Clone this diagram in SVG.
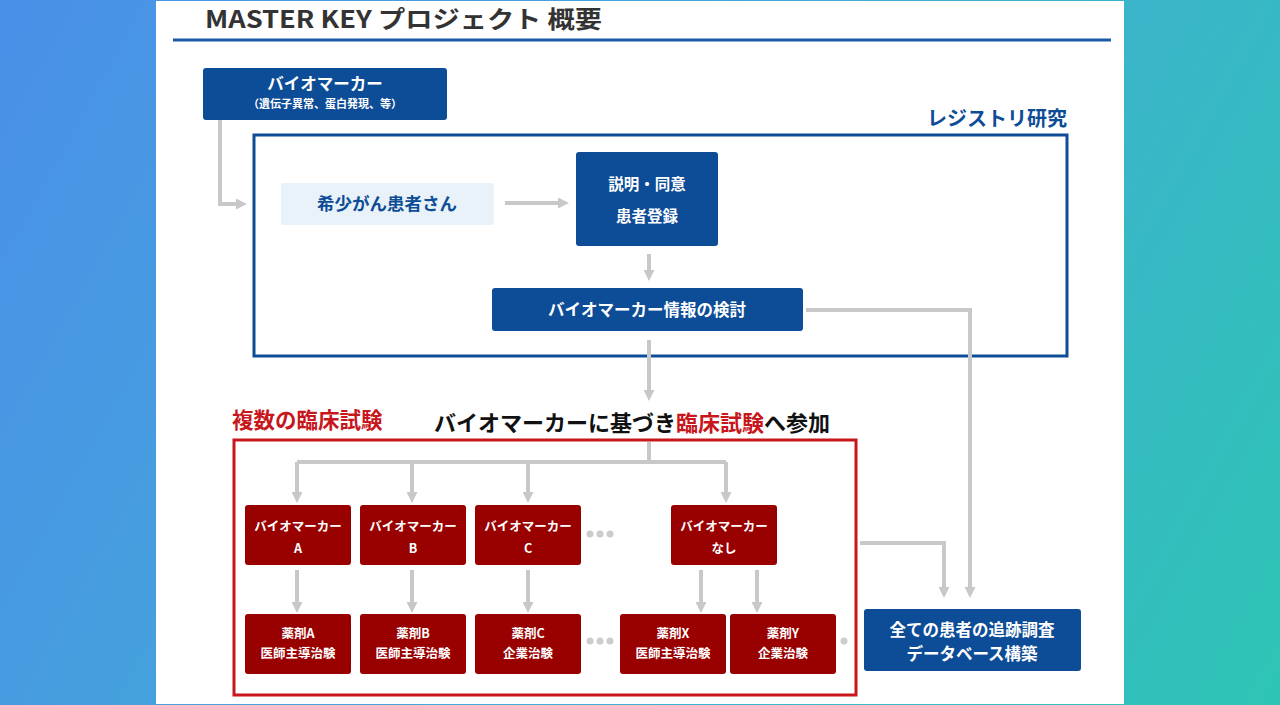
<svg xmlns="http://www.w3.org/2000/svg" width="1280" height="705" viewBox="0 0 1280 705">
<defs>
<linearGradient id="bg" x1="0" y1="0" x2="1280" y2="705" gradientUnits="userSpaceOnUse">
<stop offset="0" stop-color="#4a8fe9"/>
<stop offset="0.5" stop-color="#42abd6"/>
<stop offset="1" stop-color="#2ec5b5"/>
</linearGradient>
<marker id="ah" viewBox="0 0 10 10" refX="0" refY="5" markerWidth="11" markerHeight="11" markerUnits="userSpaceOnUse" orient="auto">
<path d="M0,0 L10,5 L0,10 z" fill="#c8c8c8"/>
</marker>
<style>
text{font-family:"Noto Sans CJK JP","Noto Sans",sans-serif;font-weight:700;}
.blue{fill:#0d4c97;}
.red{fill:#990000;}
.wt{fill:#fff;text-anchor:middle;}
.w15{font-size:16.5px;}
.w12{font-size:12.5px;}
.con{fill:none;stroke:#c8c8c8;stroke-width:4;}
.arr{marker-end:url(#ah);}
.dot{fill:#cccccc;}
</style>
</defs>
<rect x="0" y="0" width="1280" height="705" fill="url(#bg)"/>
<rect x="156" y="1" width="968" height="703" fill="#fff"/>
<text x="205" y="28" font-size="24" fill="#333" textLength="397" lengthAdjust="spacingAndGlyphs">MASTER KEY プロジェクト 概要</text>
<line x1="173" y1="40" x2="1111" y2="40" stroke="#1a5aa6" stroke-width="3"/>

<text x="1067" y="126" font-size="20" class="blue" text-anchor="end">レジストリ研究</text>
<rect x="254" y="135" width="813" height="221" fill="none" stroke="#0d4c97" stroke-width="3"/>

<text x="232" y="428" font-size="21.5" fill="#c8161d">複数の臨床試験</text>
<text x="632" y="431" font-size="22" fill="#111" text-anchor="middle">バイオマーカーに基づき<tspan fill="#c8161d">臨床試験</tspan>へ参加</text>
<rect x="234" y="440" width="622" height="255" fill="none" stroke="#c8161d" stroke-width="3"/>

<g id="connectors">
<path class="con arr" d="M220,120 V204 H236"/>
<path class="con arr" d="M505,203 H558"/>
<path class="con arr" d="M649,254 V270"/>
<path class="con arr" d="M806,310 H970 V587"/>
<path class="con arr" d="M649,340 V390"/>
<path class="con" d="M649,442 V462 M297,462 H726"/>
<path class="con arr" d="M297,462 V492"/>
<path class="con arr" d="M412,462 V492"/>
<path class="con arr" d="M528,462 V492"/>
<path class="con arr" d="M726,462 V492"/>
<path class="con arr" d="M297,570 V602"/>
<path class="con arr" d="M412,570 V602"/>
<path class="con arr" d="M528,570 V602"/>
<path class="con arr" d="M701,570 V602"/>
<path class="con arr" d="M757,570 V602"/>
<path class="con arr" d="M860,543 H944 V587"/>
</g>

<g id="biomarker">
<rect x="203" y="68" width="244" height="52" rx="3" class="blue"/>
<text x="325" y="90" class="wt w15">バイオマーカー</text>
<text x="325" y="108" class="wt" font-size="11">（遺伝子異常、蛋白発現、等）</text>
</g>
<g id="patient">
<rect x="281" y="183" width="213" height="42" rx="2" fill="#e9f1f9"/>
<text x="387" y="210" font-size="17.5" class="blue" text-anchor="middle">希少がん患者さん</text>
</g>
<g id="consent">
<rect x="576" y="152" width="142" height="94" rx="3" class="blue"/>
<text x="647" y="190" class="wt" font-size="15.5">説明・同意</text>
<text x="647" y="222" class="wt" font-size="15.5">患者登録</text>
</g>
<g id="review">
<rect x="492" y="288" width="311" height="43" rx="3" class="blue"/>
<text x="647" y="316" class="wt w15">バイオマーカー情報の検討</text>
</g>

<g id="bmA"><rect x="245" y="505" width="106" height="60" rx="3" class="red"/><text x="298" y="531" class="wt w12">バイオマーカー</text><text x="298" y="553" class="wt w12">A</text></g>
<g id="bmB"><rect x="360" y="505" width="106" height="60" rx="3" class="red"/><text x="413" y="531" class="wt w12">バイオマーカー</text><text x="413" y="553" class="wt w12">B</text></g>
<g id="bmC"><rect x="475" y="505" width="106" height="60" rx="3" class="red"/><text x="528" y="531" class="wt w12">バイオマーカー</text><text x="528" y="553" class="wt w12">C</text></g>
<g id="bmNone"><rect x="671" y="505" width="106" height="60" rx="3" class="red"/><text x="724" y="531" class="wt w12">バイオマーカー</text><text x="724" y="553" class="wt w12">なし</text></g>

<g id="drugA"><rect x="245" y="614" width="106" height="60" rx="3" class="red"/><text x="298" y="638" class="wt w12">薬剤A</text><text x="298" y="658" class="wt w12">医師主導治験</text></g>
<g id="drugB"><rect x="360" y="614" width="106" height="60" rx="3" class="red"/><text x="413" y="638" class="wt w12">薬剤B</text><text x="413" y="658" class="wt w12">医師主導治験</text></g>
<g id="drugC"><rect x="475" y="614" width="106" height="60" rx="3" class="red"/><text x="528" y="638" class="wt w12">薬剤C</text><text x="528" y="658" class="wt w12">企業治験</text></g>
<g id="drugX"><rect x="620" y="614" width="106" height="60" rx="3" class="red"/><text x="673" y="638" class="wt w12">薬剤X</text><text x="673" y="658" class="wt w12">医師主導治験</text></g>
<g id="drugY"><rect x="730" y="614" width="106" height="60" rx="3" class="red"/><text x="783" y="638" class="wt w12">薬剤Y</text><text x="783" y="658" class="wt w12">企業治験</text></g>

<g id="dots">
<circle cx="590" cy="534" r="3.5" class="dot"/><circle cx="600" cy="534" r="3.5" class="dot"/><circle cx="610" cy="534" r="3.5" class="dot"/>
<circle cx="590" cy="641" r="3.5" class="dot"/><circle cx="600" cy="641" r="3.5" class="dot"/><circle cx="610" cy="641" r="3.5" class="dot"/>
<circle cx="844" cy="641" r="3.5" class="dot"/>
</g>

<g id="followup">
<rect x="864" y="609" width="217" height="62" rx="3" class="blue"/>
<text x="972" y="636" class="wt w15">全ての患者の追跡調査</text>
<text x="972" y="660" class="wt w15">データベース構築</text>
</g>
</svg>
